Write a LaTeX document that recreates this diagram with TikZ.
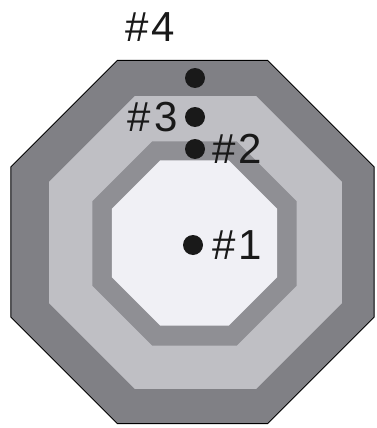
\documentclass[tikz,border=0pt]{standalone}
\usepackage{fontspec}
\setmainfont{Liberation Sans}
\usepackage{xcolor}
\usepackage{tikz}
\usetikzlibrary{shapes.geometric, positioning}
\definecolor{ringdark}{rgb}{0.50, 0.50, 0.52}
\definecolor{ringlight}{rgb}{0.75, 0.75, 0.77}
\definecolor{ringmid}{rgb}{0.56, 0.56, 0.58}
\definecolor{ringcore}{rgb}{0.94, 0.94, 0.96}
\tikzstyle{ring} = [regular polygon, regular polygon sides=8, inner sep=0pt, outer sep=0pt, draw=none]
\tikzstyle{spot} = [circle, fill=black!90, minimum size=20pt, inner sep=0pt]
\tikzstyle{tag} = [inner sep=0pt, font=\fontsize{42}{42}\selectfont, text=black!90]
\newcommand{\hashgap}{\kern3pt}

\begin{document}
\begin{tikzpicture}[x=1pt, y=-1pt]
\useasboundingbox (0,0) rectangle (376,428);

\node[ring,
draw=black,
line width=1pt,
fill=ringdark,
minimum size=393pt
] (outer) at (192.5,242) {};
\node[ring, fill=ringlight, minimum size=317pt] (band) at (195.5,242.5) {};
\node[ring, fill=ringmid, minimum size=221pt] (inner) at (194.5,243.5) {};
\node[ring, fill=ringcore, minimum size=179pt] (core) at (194.5,243) {};

\node[spot] (spot4) at (195,78) {};
\node[spot] (spot3) at (195,117) {};
\node[spot] (spot2) at (195,149) {};
\node[spot] (spot1) at (193,245) {};

\node[tag, right=9pt of spot1] (tag1) {\#\hashgap 1};
\node[tag, right=7pt of spot2] (tag2) {\#\hashgap 2};
\node[tag, left=7pt of spot3] (tag3) {\#\hashgap 3};
\node[tag] (tag4) at (150,27) {\#\hashgap 4};
\end{tikzpicture}
\end{document}
